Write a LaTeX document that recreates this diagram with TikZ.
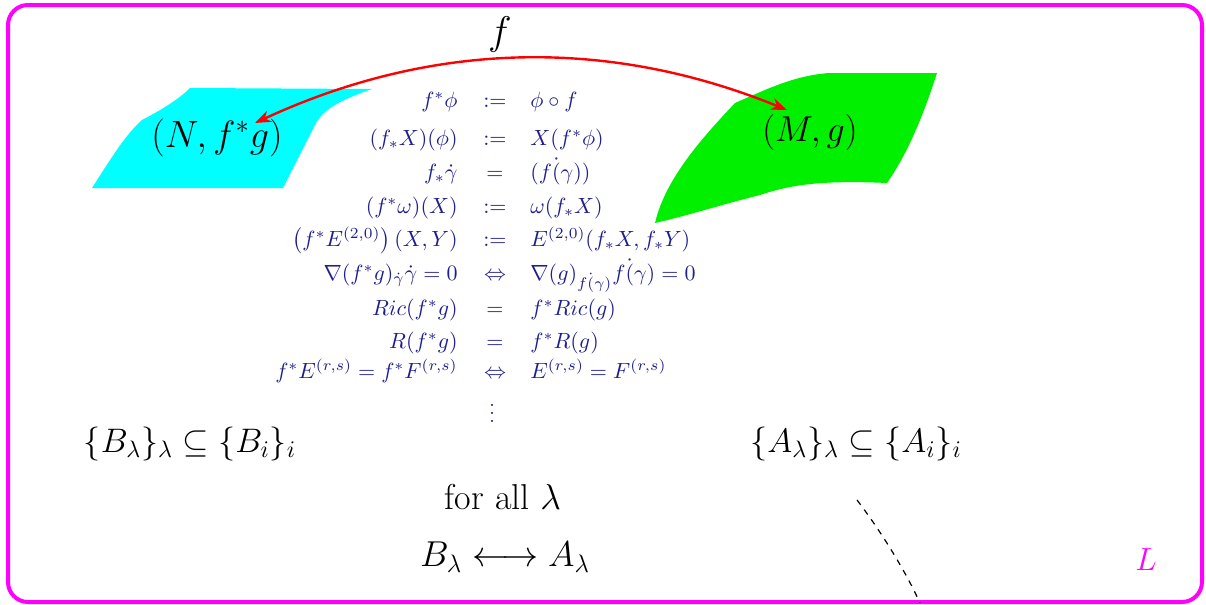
\RequirePackage{fix-cm}
\documentclass[tikz,border=0pt]{standalone}
\usepackage{amsmath}
\usepackage{fontspec}
\usetikzlibrary{arrows.meta}
\definecolor{navyt}{RGB}{30,30,140}
\definecolor{framemag}{RGB}{255,0,255}
\definecolor{cyanfill}{RGB}{0,255,255}
\definecolor{greenfill}{RGB}{0,240,0}
\begin{document}
\begin{tikzpicture}[x=0.5pt,y=-0.5pt,
  big/.style={font=\fontsize{18}{20}\selectfont, inner sep=0pt},
  tbl/.style={text=navyt, font=\fontsize{11}{13}\selectfont, inner sep=0pt},
  tl/.style={tbl, anchor=mid east},
  tm/.style={tbl, anchor=mid},
  tr/.style={tbl, anchor=mid west},
  maparrow/.style={red, line width=1.2pt, {Stealth[length=8pt,width=6pt]}-{Stealth[length=8pt,width=6pt]}}]
\useasboundingbox (0,0) rectangle (1206,605);
% frame
\draw[framemag, line width=2pt, rounded corners=10pt] (8,5) rectangle (1202,602);
% cyan surface
\fill[cyanfill] (190,88) -- (372,89) .. controls (340,100) and (322,110) .. (315,125)
  -- (283,188) -- (92,188) .. controls (110,160) and (125,135) .. (142,120)
  .. controls (165,108) and (180,98) .. (190,88) -- cycle;
% green surface
\fill[greenfill] (735,103) .. controls (765,90) and (795,75) .. (830,73)
  -- (937,73) .. controls (925,110) and (910,150) .. (887,183)
  .. controls (820,180) and (790,185) .. (760,195)
  .. controls (720,205) and (690,215) .. (655,223)
  .. controls (665,180) and (700,140) .. (735,103) -- cycle;
% labels of manifolds
\node[big, font=\fontsize{19}{21}\selectfont] (N) at (217,138) {$(N,f^*g)$};
\node[big] (M) at (810,133) {$(M,g)$};
\coordinate (Mtip) at (787,110);
\coordinate (Ntip) at (255,123);
\draw[maparrow] (Mtip) .. controls (608,37) and (432,41) .. (Ntip);
\node[big, font=\fontsize{20}{22}\selectfont] (flab) at (500,35) {$f$};
% table
\node[tl] (l1) at (458,103) {$f^*\phi$};
\node[tm] (m1) at (495,103) {$:=$};
\node[tr] (r1) at (530,103) {$\phi\circ f$};
\node[tl] (l2) at (458,141) {$(f_*X)(\phi)$};
\node[tm] (m2) at (495,141) {$:=$};
\node[tr] (r2) at (530,141) {$X(f^*\phi)$};
\node[tl] (l3) at (458,175) {$f_*\dot\gamma$};
\node[tm] (m3) at (495,175) {$=$};
\node[tr] (r3) at (530,175) {$(f\dot{(}\gamma))$};
\node[tl] (l4) at (458,209) {$(f^*\omega)(X)$};
\node[tm] (m4) at (495,209) {$:=$};
\node[tr] (r4) at (530,209) {$\omega(f_*X)$};
\node[tl] (l5) at (458,242) {$\left(f^*E^{(2,0)}\right)(X,Y)$};
\node[tm] (m5) at (495,242) {$:=$};
\node[tr] (r5) at (530,242) {$E^{(2,0)}(f_*X,f_*Y)$};
\node[tl] (l6) at (458,276) {$\nabla(f^*g)_{\dot\gamma}\dot\gamma=0$};
\node[tm] (m6) at (495,276) {$\Leftrightarrow$};
\node[tr] (r6) at (530,276) {$\nabla(g)_{f\dot{(}\gamma)}f\dot{(}\gamma)=0$};
\node[tl] (l7) at (458,311) {$Ric(f^*g)$};
\node[tm] (m7) at (495,311) {$=$};
\node[tr] (r7) at (530,311) {$f^*Ric(g)$};
\node[tl] (l8) at (458,344) {$R(f^*g)$};
\node[tm] (m8) at (495,344) {$=$};
\node[tr] (r8) at (530,344) {$f^*R(g)$};
\node[tl] (l9) at (458,374) {$f^*E^{(r,s)}=f^*F^{(r,s)}$};
\node[tm] (m9) at (495,374) {$\Leftrightarrow$};
\node[tr] (r9) at (530,374) {$E^{(r,s)}=F^{(r,s)}$};
\node[tm] (m10) at (492,418) {$\vdots$};
% families
\node[big, font=\fontsize{17}{19}\selectfont] (B) at (190,444) {$\{B_\lambda\}_\lambda\subseteq\{B_i\}_i$};
\node[big, font=\fontsize{17}{19}\selectfont] (A) at (856,444) {$\{A_\lambda\}_\lambda\subseteq\{A_i\}_i$};
\node[big] (forall) at (503,497) {for all $\lambda$};
\node[big] (corr) at (505,557) {$B_\lambda\longleftrightarrow A_\lambda$};
\node[big, text=framemag, font=\fontsize{16}{18}\selectfont] (L) at (1146,560) {$L$};
% dashed line
\coordinate (d1) at (857,500);
\coordinate (d2) at (920,603);
\draw[dashed, line width=0.6pt] (d1) .. controls (880,530) and (905,570) .. (d2);
\end{tikzpicture}
\end{document}
